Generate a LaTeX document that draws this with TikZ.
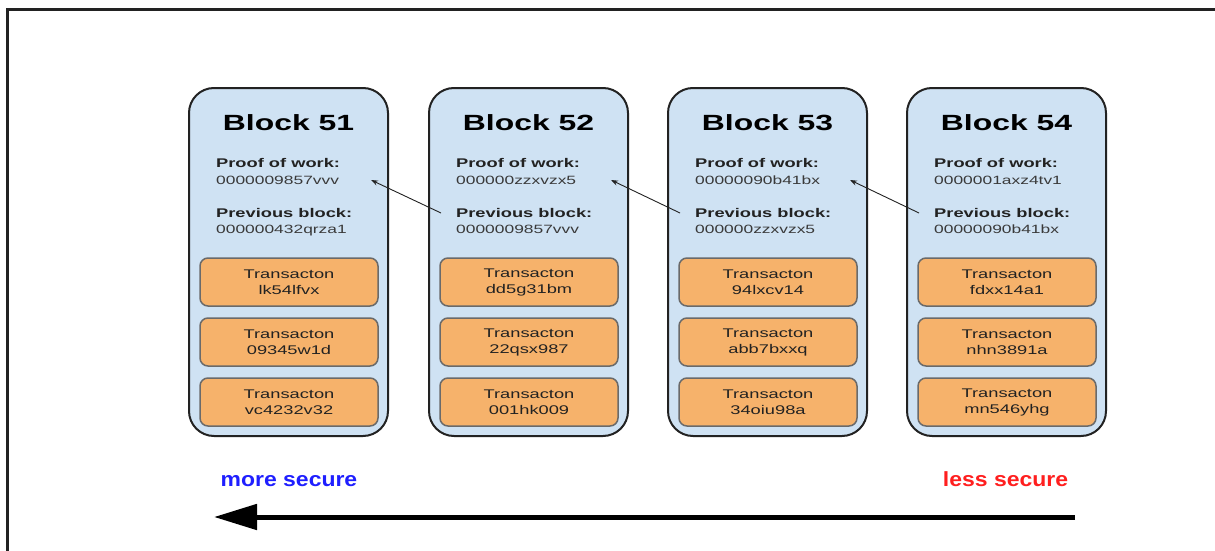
\documentclass[tikz,border=0pt]{standalone}
\usepackage{fontspec}
\setmainfont{Liberation Sans}
\usepackage{graphicx}
\usetikzlibrary{arrows.meta,calc}
\definecolor{blockfill}{HTML}{CFE2F3}
\definecolor{txfill}{HTML}{F6B26B}
\definecolor{txdraw}{HTML}{6A6A6A}
\definecolor{ink}{HTML}{222222}
\definecolor{valink}{HTML}{3A3A3A}
\definecolor{moreblue}{HTML}{1F1FFF}
\definecolor{lessred}{HTML}{FF1F1F}
\newcommand{\hs}[1]{\scalebox{1.45}[1]{#1}}
\newcommand{\hsb}[1]{\scalebox{1.12}[1]{#1}}
\begin{document}
\begin{tikzpicture}[x=1pt,y=-1pt,
  blockbox/.style={draw=ink, fill=blockfill, line width=2pt, rounded corners=25pt,
    minimum width=199pt, minimum height=348pt, inner sep=0pt},
  txbox/.style={draw=txdraw, fill=txfill, line width=1.5pt, rounded corners=8pt,
    minimum width=178pt, minimum height=48pt, inner sep=0pt, align=center,
    font=\fontsize{12.6}{16}\selectfont, text=ink},
  titlelbl/.style={anchor=base, inner sep=0pt, font=\fontsize{22}{26}\selectfont\bfseries, text=black},
  fieldlbl/.style={anchor=base west, inner sep=0pt, font=\fontsize{12.6}{15}\selectfont\bfseries, text=ink},
  fieldval/.style={anchor=base west, inner sep=0pt, font=\fontsize{12}{15}\selectfont, text=valink},
  link/.style={draw=ink, line width=0.9pt, -{Stealth[length=7pt,width=5pt]}},
  seclbl/.style={anchor=base, inner sep=0pt, font=\fontsize{20.5}{24}\selectfont\bfseries},
  bigarrow/.style={draw=black, line width=5pt, line cap=butt, -{Triangle[length=43pt,width=25pt]}}
]
\useasboundingbox (0,0) rectangle (1215,551);
% frame
\draw[line width=2.5pt, ink] (7.5,551) -- (7.5,9.5) -- (1215,9.5);

\foreach \i/\x/\pow/\prev/\ta/\tb/\tc in {
  51/189/0000009857vvv/000000432qrza1/lk54lfvx/09345w1d/vc4232v32,
  52/429/000000zzxvzx5/0000009857vvv/dd5g31bm/22qsx987/001hk009,
  53/668/00000090b41bx/000000zzxvzx5/94lxcv14/abb7bxxq/34oiu98a,
  54/907/0000001axz4tv1/00000090b41bx/fdxx14a1/nhn3891a/mn546yhg}{
  \node[blockbox] (b\i) at (\x+99.5,262) {};
  \node[titlelbl] (t\i) at (\x+99.5,130) {\hs{Block \i}};
  \node[fieldlbl] (powl\i) at (\x+27,167) {\hs{Proof of work:}};
  \node[fieldval] (powv\i) at (\x+27,184) {\hs{\pow}};
  \node[fieldlbl] (prevl\i) at (\x+27,217) {\hs{Previous block:}};
  \node[fieldval] (prevv\i) at (\x+27,233) {\hs{\prev}};
  \node[txbox] (tx\i a) at (\x+100,282) {\hs{Transacton}\\\hs{\ta}};
  \node[txbox] (tx\i b) at (\x+100,342) {\hs{Transacton}\\\hs{\tb}};
  \node[txbox] (tx\i c) at (\x+100,402) {\hs{Transacton}\\\hs{\tc}};
  \coordinate (tip\i) at (\x+182,180);
  \coordinate (src\i) at (\x+12,213);
}
\draw[link] (src52) -- (tip51);
\draw[link] (src53) -- (tip52);
\draw[link] (src54) -- (tip53);

\node[seclbl, text=moreblue] (more) at (289,486) {\hsb{more secure}};
\node[seclbl, text=lessred] (less) at (1005.5,486) {\hsb{less secure}};
\coordinate (arrowstart) at (1075,517);
\coordinate (arrowend) at (214,517);
\draw[bigarrow] (arrowstart) -- (arrowend);
\end{tikzpicture}
\end{document}
